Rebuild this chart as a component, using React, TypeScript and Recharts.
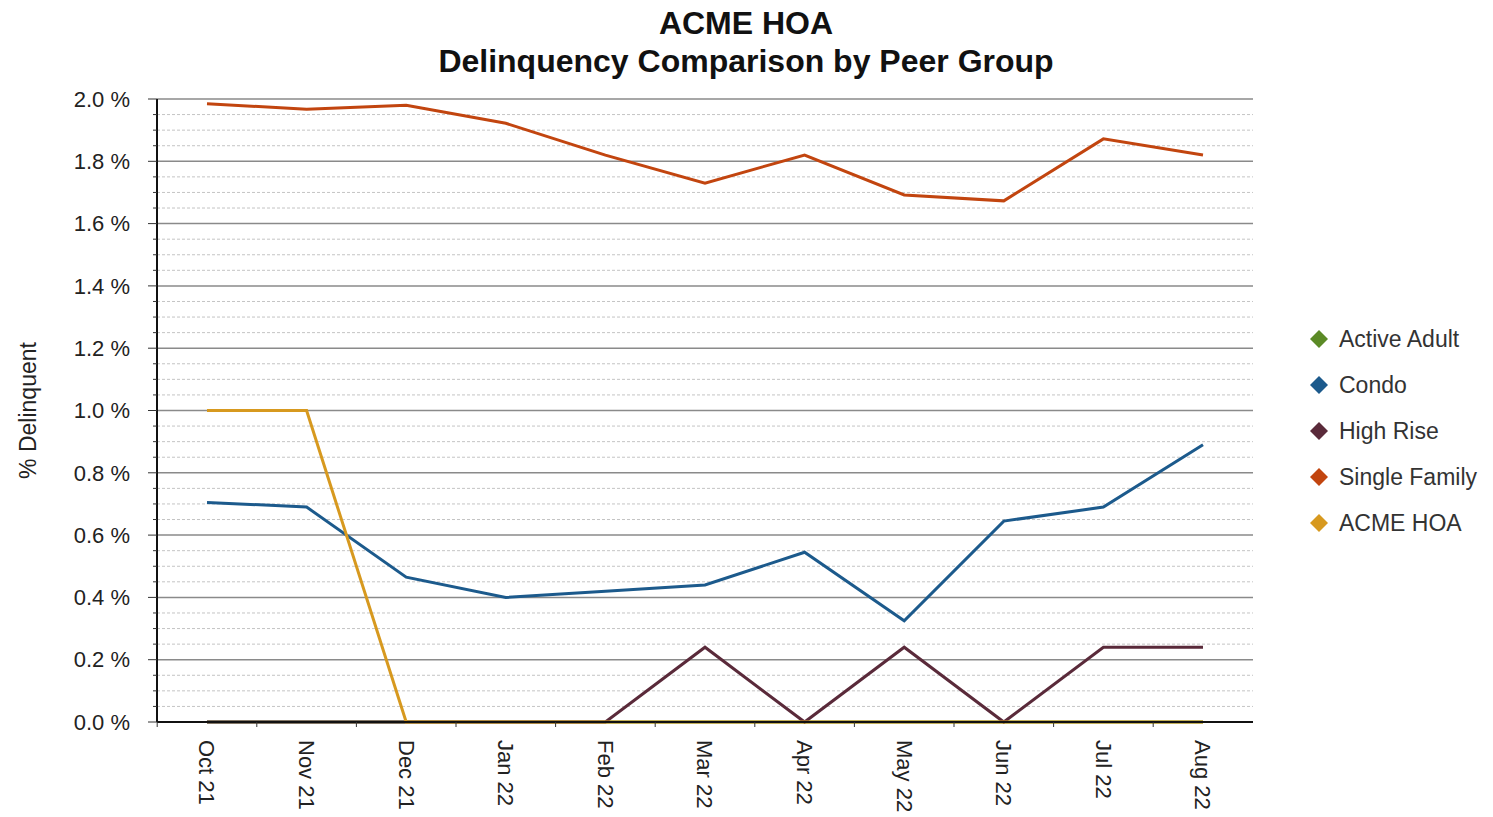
import { LineChart, Line, XAxis, YAxis, CartesianGrid, Legend } from "recharts";

const FONT = '"Liberation Sans", Arial, sans-serif';

const months = ["Oct 21", "Nov 21", "Dec 21", "Jan 22", "Feb 22", "Mar 22", "Apr 22", "May 22", "Jun 22", "Jul 22", "Aug 22"];

const activeAdult = [0, 0, 0, 0, 0, 0, 0, 0, 0, 0, 0];
const condo = [0.705, 0.69, 0.465, 0.4, 0.42, 0.44, 0.545, 0.325, 0.645, 0.69, 0.89];
const highRise = [0, 0, 0, 0, 0, 0.24, 0, 0.24, 0, 0.24, 0.24];
const singleFamily = [1.985, 1.967, 1.98, 1.922, 1.82, 1.73, 1.82, 1.692, 1.673, 1.872, 1.82];
const acmeHoa = [1.0, 1.0, 0, 0, 0, 0, 0, 0, 0, 0, 0];

const majorTicks = [0, 0.2, 0.4, 0.6, 0.8, 1.0, 1.2, 1.4, 1.6, 1.8, 2.0];
const minorTicks = [
  0.05, 0.1, 0.15, 0.25, 0.3, 0.35, 0.45, 0.5, 0.55, 0.65, 0.7, 0.75, 0.85, 0.9, 0.95,
  1.05, 1.1, 1.15, 1.25, 1.3, 1.35, 1.45, 1.5, 1.55, 1.65, 1.7, 1.75, 1.85, 1.9, 1.95,
];
const allTicks = [...majorTicks, ...minorTicks].sort((a, b) => a - b);

const data = months.map((month, i) => ({
  month,
  activeAdult: activeAdult[i],
  condo: condo[i],
  highRise: highRise[i],
  singleFamily: singleFamily[i],
  acmeHoa: acmeHoa[i],
}));

const series = [
  { key: "activeAdult", name: "Active Adult", color: "#5b8a26" },
  { key: "condo", name: "Condo", color: "#1c5a8c" },
  { key: "highRise", name: "High Rise", color: "#5a2a3a" },
  { key: "singleFamily", name: "Single Family", color: "#c2450f" },
  { key: "acmeHoa", name: "ACME HOA", color: "#d7991f" },
];

const isMajor = (v: number) => Math.abs(v * 5 - Math.round(v * 5)) < 1e-6;

function YTick(props: any) {
  const { x, y, payload } = props;
  const axisX = x + 27;
  const major = isMajor(payload.value);
  return (
    <g>
      <line x1={axisX - (major ? 9 : 4)} x2={axisX} y1={y} y2={y} stroke="#333" strokeWidth={1} />
      {major && (
        <text x={x} y={y} dy="0.35em" textAnchor="end" fontFamily={FONT} fontSize={22} fill="#222">
          {`${payload.value.toFixed(1)} %`}
        </text>
      )}
    </g>
  );
}

function XTick(props: any) {
  const { x, y, payload } = props;
  const bx = x - 49.8;
  return (
    <g>
      <line x1={bx} x2={bx} y1={y - 18} y2={y - 13} stroke="#333" strokeWidth={1} />
      <text
        x={x}
        y={y}
        dy="0.35em"
        textAnchor="start"
        transform={`rotate(90, ${x}, ${y})`}
        fontFamily={FONT}
        fontSize={22}
        fill="#222"
      >
        {payload.value}
      </text>
    </g>
  );
}

function YLabel(props: any) {
  const vb = props.viewBox || { x: 0, y: 99, width: 157, height: 623 };
  const cx = vb.x + 28;
  const cy = vb.y + vb.height / 2;
  return (
    <text
      x={cx}
      y={cy}
      dy="0.35em"
      textAnchor="middle"
      transform={`rotate(-90, ${cx}, ${cy})`}
      fontFamily={FONT}
      fontSize={23}
      fill="#222"
    >
      % Delinquent
    </text>
  );
}

function renderLegend() {
  return (
    <div style={{ width: 240, fontFamily: FONT, fontSize: 23, color: "#333" }}>
      {series.map((s) => (
        <div key={s.key} style={{ height: 46, display: "flex", alignItems: "center", whiteSpace: "nowrap" }}>
          <svg width={20} height={20} style={{ marginLeft: 56, marginRight: 10 }}>
            <path d="M10 1 L19 10 L10 19 L1 10 Z" fill={s.color} />
          </svg>
          {s.name}
        </div>
      ))}
    </div>
  );
}

export default function App() {
  return (
    <div style={{ position: "absolute", top: 0, left: 0 }}>
      <LineChart width={1493} height={817} data={data} margin={{ top: 99, right: 0, bottom: 0, left: 0 }}>
        <text x={746} y={34} textAnchor="middle" fontFamily={FONT} fontSize={32} fontWeight="bold" fill="#111">
          ACME HOA
        </text>
        <text x={746} y={72} textAnchor="middle" fontFamily={FONT} fontSize={32} fontWeight="bold" fill="#111">
          Delinquency Comparison by Peer Group
        </text>
        <CartesianGrid vertical={false} horizontalValues={minorTicks} stroke="#c4c4c4" strokeDasharray="3 2" />
        <CartesianGrid vertical={false} horizontalValues={majorTicks} stroke="#8a8a8a" strokeWidth={1.5} />
        <XAxis
          dataKey="month"
          height={95}
          padding={{ left: 50, right: 50 }}
          tickSize={5}
          tickMargin={13}
          tickLine={false}
          axisLine={{ stroke: "#111", strokeWidth: 2 }}
          tick={<XTick />}
          interval={0}
        />
        <YAxis
          width={157}
          domain={[0, 2]}
          ticks={allTicks}
          interval={0}
          tickSize={9}
          tickMargin={18}
          tickLine={false}
          axisLine={{ stroke: "#111", strokeWidth: 2 }}
          tick={<YTick />}
          label={(p: any) => <YLabel {...p} />}
        />
        <Legend
          layout="vertical"
          align="right"
          verticalAlign="top"
          wrapperStyle={{ top: 316, right: 0 }}
          content={renderLegend}
        />
        {series.map((s) => (
          <Line
            key={s.key}
            dataKey={s.key}
            name={s.name}
            stroke={s.color}
            strokeWidth={3}
            dot={false}
            activeDot={false}
            isAnimationActive={false}
          />
        ))}
      </LineChart>
    </div>
  );
}
